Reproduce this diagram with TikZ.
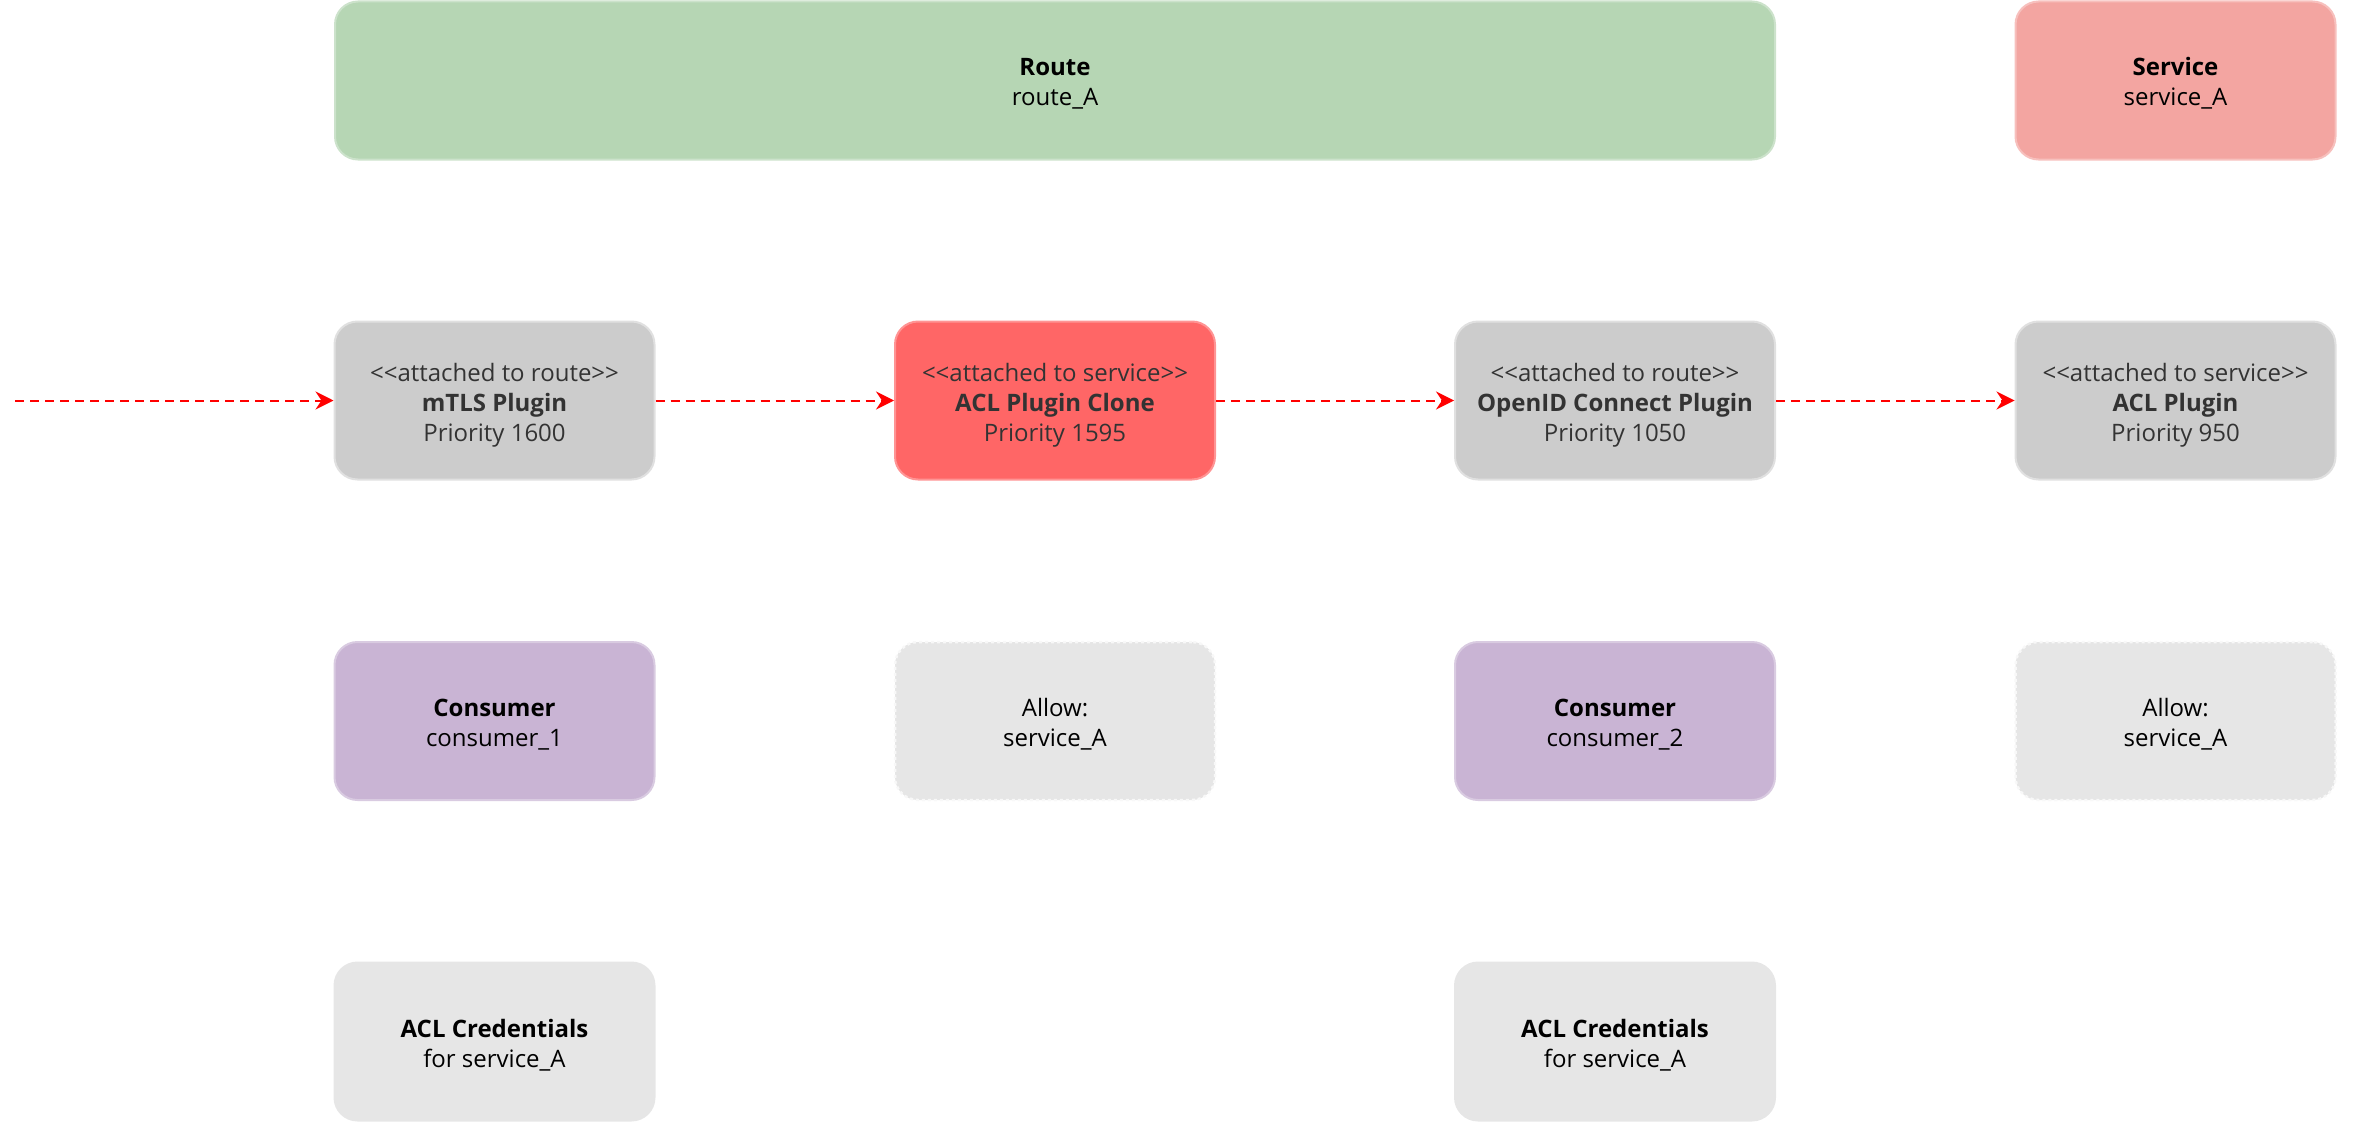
\documentclass[tikz,border=0pt]{standalone}
\usepackage{fontspec}
\setmainfont{Open Sans}[Ligatures=TeXOff]
\usetikzlibrary{arrows.meta}
\definecolor{routeg}{HTML}{B6D6B4}
\definecolor{servp}{HTML}{F3A5A1}
\definecolor{plugg}{HTML}{CCCCCC}
\definecolor{clonr}{HTML}{FF6666}
\definecolor{consp}{HTML}{C9B4D4}
\definecolor{lightg}{HTML}{E6E6E6}
\definecolor{txtg}{HTML}{333333}
\newcommand\btxt[1]{\raisebox{-4.5pt}[\height][\depth]{\begin{tabular}{@{}c@{}}#1\end{tabular}}}
\tikzset{
  box/.style={rounded corners=23pt, minimum width=320pt, minimum height=158pt,
    inner sep=0pt, line width=2pt,
    font=\fontsize{24}{30}\selectfont},
  routebox/.style={box, fill=routeg, draw=routeg!70!white, minimum width=1440pt},
  servbox/.style={box, fill=servp, draw=servp!70!white},
  plugbox/.style={box, fill=plugg, draw=plugg!60!white, text=txtg},
  clonebox/.style={box, fill=clonr, draw=clonr!70!white, text=txtg},
  consbox/.style={box, fill=consp, draw=consp!70!white},
  allowbox/.style={box, fill=lightg, draw=lightg!30!white, line width=2.5pt, dash pattern=on 3pt off 3pt},
  credbox/.style={box, fill=lightg, draw=lightg},
  flow/.style={draw=red, line width=2pt, dash pattern=on 9pt off 6pt,
    -{Stealth[length=18pt,width=18pt,inset=6pt]}},
}
\begin{document}
\begin{tikzpicture}[x=1pt,y=1pt]
\useasboundingbox (0,0) rectangle (2364,-1124);
% top row
\node[routebox] (route) at (1055,-80.5) {\btxt{\textbf{Route}\\route\_A}};
\node[servbox] (service) at (2175.5,-80.5) {\btxt{\textbf{Service}\\service\_A}};
% plugin row
\node[plugbox] (mtls) at (494.5,-400.5) {\btxt{<<attached to route>>\\\textbf{mTLS Plugin}\\Priority 1600}};
\node[clonebox] (clone) at (1055,-400.5) {\btxt{<<attached to service>>\\\textbf{ACL Plugin Clone}\\Priority 1595}};
\node[plugbox] (oidc) at (1615,-400.5) {\btxt{<<attached to route>>\\\textbf{OpenID Connect Plugin}\\Priority 1050}};
\node[plugbox] (acl) at (2175.5,-400.5) {\btxt{<<attached to service>>\\\textbf{ACL Plugin}\\Priority 950}};
% third row
\node[consbox] (cons1) at (494.5,-721) {\btxt{\textbf{Consumer}\\consumer\_1}};
\node[allowbox] (allow1) at (1055,-721) {\btxt{Allow:\\service\_A}};
\node[consbox] (cons2) at (1615,-721) {\btxt{\textbf{Consumer}\\consumer\_2}};
\node[allowbox] (allow2) at (2175.5,-721) {\btxt{Allow:\\service\_A}};
% fourth row
\node[credbox] (cred1) at (494.5,-1041.5) {\btxt{\textbf{ACL Credentials}\\for service\_A}};
\node[credbox] (cred2) at (1615,-1041.5) {\btxt{\textbf{ACL Credentials}\\for service\_A}};
% flow
\coordinate (start) at (15,-400.5);
\draw[flow] (start) -- (mtls.west);
\draw[flow] (mtls.east) -- (clone.west);
\draw[flow] (clone.east) -- (oidc.west);
\draw[flow] (oidc.east) -- (acl.west);
\end{tikzpicture}
\end{document}
